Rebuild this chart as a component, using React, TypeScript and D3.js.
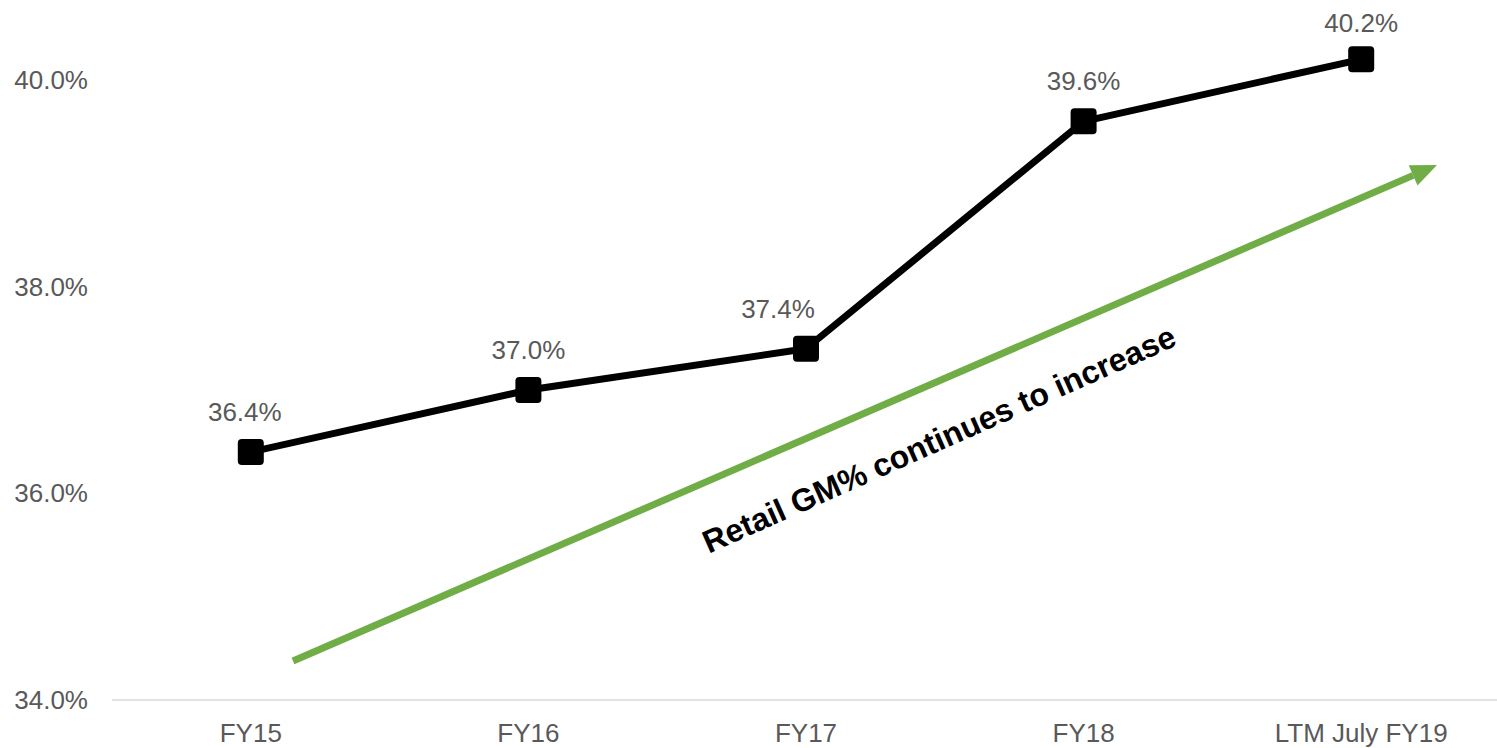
import React from "react";
import * as d3 from "d3";

const categories = ["FY15", "FY16", "FY17", "FY18", "LTM July FY19"];
const values = [36.4, 37.0, 37.4, 39.6, 40.2];
const yTicks = [34, 36, 38, 40];
const annotation = "Retail GM% continues to increase";

const W = 1497;
const H = 748;

export default function App() {
  const x = d3.scaleBand<string>().domain(categories).range([112, 1500]);
  const y = d3.scaleLinear().domain([34, 40]).range([700, 80]);
  const cx = (c: string) => (x(c) as number) + x.bandwidth() / 2;
  const line = d3
    .line<number>()
    .x((_, i) => cx(categories[i]))
    .y((d) => y(d));
  const labelDx = [-6, 0, -28, 0, 0];
  const labelDy = [-31, -31, -31, -31, -27];
  const font = "Liberation Sans, Arial, sans-serif";
  const green = "#70AD47";
  const ax0 = 293, ay0 = 661, ax1 = 1437, ay1 = 165;
  const ang = Math.atan2(ay1 - ay0, ax1 - ax0);
  const headLen = 26, headW = 11;
  const bx = ax1 - headLen * Math.cos(ang);
  const by = ay1 - headLen * Math.sin(ang);
  const px = -Math.sin(ang), py = Math.cos(ang);
  return (
    <svg width={W} height={H} style={{ position: "absolute", left: 0, top: 0, background: "#fff" }}>
      <line x1={112} x2={1497} y1={y(34)} y2={y(34)} stroke="#d9d9d9" strokeWidth={1.5} />
      {yTicks.map((t) => (
        <text key={t} x={88} y={y(t)} dy="0.35em" textAnchor="end" fontFamily={font} fontSize={26} fill="#595959">
          {t.toFixed(1) + "%"}
        </text>
      ))}
      {categories.map((c) => (
        <text key={c} x={cx(c)} y={742} textAnchor="middle" fontFamily={font} fontSize={26} fill="#595959">
          {c}
        </text>
      ))}
      <line x1={ax0} y1={ay0} x2={bx} y2={by} stroke={green} strokeWidth={7} />
      <polygon
        points={`${ax1},${ay1} ${bx + px * headW},${by + py * headW} ${bx - px * headW},${by - py * headW}`}
        fill={green}
      />
      <path d={line(values) || ""} fill="none" stroke="#000" strokeWidth={7} strokeLinejoin="round" />
      {values.map((v, i) => (
        <rect
          key={i}
          x={cx(categories[i]) - 13}
          y={y(v) - 13}
          width={26}
          height={26}
          rx={4}
          fill="#000"
        />
      ))}
      {values.map((v, i) => (
        <text
          key={"l" + i}
          x={cx(categories[i]) + labelDx[i]}
          y={y(v) + labelDy[i]}
          textAnchor="middle"
          fontFamily={font}
          fontSize={26}
          fill="#595959"
        >
          {v.toFixed(1) + "%"}
        </text>
      ))}
      <text
        transform={`translate(939,439) rotate(-24)`}
        textAnchor="middle"
        dy="0.35em"
        fontFamily={font}
        fontSize={32}
        fontWeight="bold"
        fill="#000"
      >
        {annotation}
      </text>
    </svg>
  );
}
